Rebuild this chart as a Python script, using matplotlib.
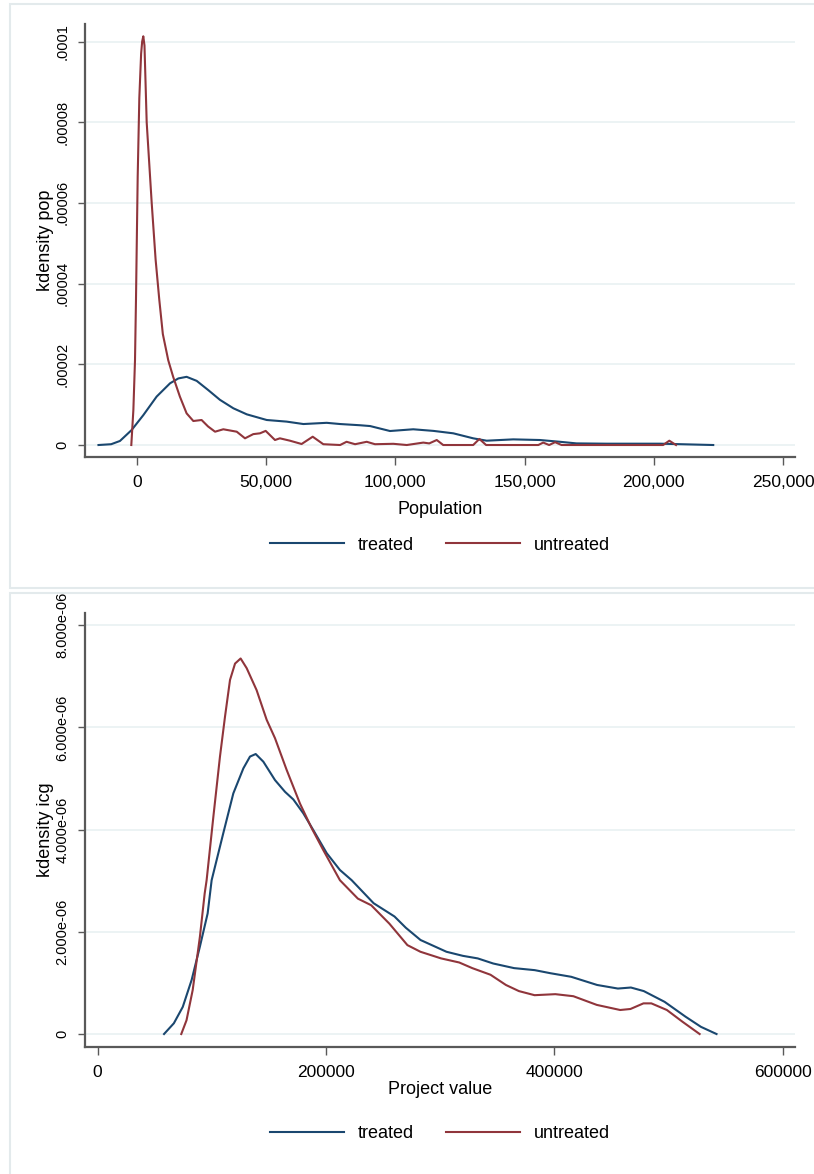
import matplotlib
matplotlib.use("Agg")
import matplotlib.pyplot as plt
from matplotlib.patches import Rectangle

plt.rcParams['font.family'] = ['Liberation Sans Narrow', 'Liberation Sans', 'DejaVu Sans']

# kdensity of population, treated vs untreated
pop_treated_x = [-14900, -10000, -6600, -2100, 2440, 7600, 12800, 16000, 19200, 23100,
                 27600, 32100, 37300, 42500, 50200, 57900, 64400, 73400, 78600, 86300,
                 90200, 97900, 106900, 114700, 122400, 130100, 135300, 145600, 155900,
                 163700, 170100, 181700, 202400, 223000]
pop_treated_y = [0, 2e-7, 1.0e-6, 3.7e-6, 7.4e-6, 1.2e-5, 1.53e-5, 1.65e-5, 1.69e-5, 1.59e-5,
                 1.36e-5, 1.12e-5, 9.1e-6, 7.6e-6, 6.2e-6, 5.8e-6, 5.2e-6, 5.5e-6, 5.2e-6, 4.9e-6,
                 4.7e-6, 3.47e-6, 3.9e-6, 3.5e-6, 2.9e-6, 1.66e-6, 1.07e-6, 1.4e-6, 1.24e-6,
                 8e-7, 4e-7, 3.3e-7, 3.3e-7, 0]

pop_untreated_x = [-2200, -1400, -770, -390, 270, 900, 1600, 2000, 2440, 2900, 3750, 5690,
                   7200, 8630, 10000, 12100, 14000, 16600, 19200, 21800, 25000, 27500, 30200,
                   33400, 38600, 41800, 45000, 47600, 49800, 53400, 55300, 59200, 63700,
                   68000, 72100, 78600, 81100, 84400, 88900, 92100, 99200, 104400, 110800,
                   113100, 116000, 118500, 130100, 132500, 135100, 155300, 157200, 159500,
                   161800, 164300, 203600, 206000, 208600]
pop_untreated_y = [0, 8.7e-6, 2.1e-5, 3.6e-5, 6.65e-5, 8.6e-5, 9.7e-5, 1.0e-4, 1.013e-4, 9.9e-5,
                   8.0e-5, 6.0e-5, 4.6e-5, 3.6e-5, 2.75e-5, 2.1e-5, 1.69e-5, 1.2e-5, 7.85e-6,
                   5.95e-6, 6.2e-6, 4.6e-6, 3.3e-6, 3.9e-6, 3.3e-6, 1.66e-6, 2.7e-6, 2.9e-6,
                   3.5e-6, 1.24e-6, 1.66e-6, 1.07e-6, 2.5e-7, 2.06e-6, 2e-7, 0, 8e-7, 2e-7,
                   8e-7, 2e-7, 3e-7, 0, 6e-7, 4e-7, 1.24e-6, 0, 0, 1.5e-6, 0, 0, 6e-7, 0,
                   7e-7, 0, 0, 1.07e-6, 0]

pop_xticks = [0, 50000, 100000, 150000, 200000, 250000]
pop_xticklabels = ["0", "50,000", "100,000", "150,000", "200,000", "250,000"]
pop_yticks = [0, 0.00002, 0.00004, 0.00006, 0.00008, 0.0001]
pop_yticklabels = ["0", ".00002", ".00004", ".00006", ".00008", ".0001"]

# kdensity of project value (icg)
icg_treated_x = [58200, 66800, 74600, 82400, 89600, 96400, 99900, 110100, 118900, 127700,
                 133500, 138500, 145200, 155400, 164200, 171500, 180200, 189000, 200700,
                 212300, 222600, 241800, 260100, 270000, 282900, 305600, 320000, 333000,
                 346600, 364800, 383000, 396700, 414900, 437600, 455800, 467200, 478500,
                 496700, 515000, 528600, 542200]
icg_treated_y = [0, 2.1e-7, 5.3e-7, 1.06e-6, 1.71e-6, 2.36e-6, 3.01e-6, 3.93e-6, 4.71e-6, 5.20e-6,
                 5.43e-6, 5.48e-6, 5.33e-6, 4.97e-6, 4.74e-6, 4.59e-6, 4.32e-6, 3.99e-6, 3.54e-6,
                 3.21e-6, 3.01e-6, 2.56e-6, 2.30e-6, 2.08e-6, 1.84e-6, 1.61e-6, 1.53e-6, 1.48e-6,
                 1.38e-6, 1.29e-6, 1.25e-6, 1.19e-6, 1.12e-6, 9.6e-7, 8.9e-7, 9.1e-7, 8.4e-7,
                 6.3e-7, 3.4e-7, 1.4e-7, 0]

icg_untreated_x = [73300, 77900, 83300, 89600, 93800, 95500, 101400, 107200, 111600, 116000,
                   120400, 125300, 130600, 139300, 148100, 155400, 165600, 177300, 187500,
                   197700, 212300, 228000, 239700, 255600, 271400, 282800, 300900, 316800,
                   328200, 344200, 357700, 369100, 382800, 401000, 416800, 437300, 457800,
                   466800, 478200, 485100, 498700, 512400, 527400]
icg_untreated_y = [0, 2.7e-7, 8.6e-7, 1.90e-6, 2.75e-6, 3.01e-6, 4.25e-6, 5.43e-6, 6.21e-6, 6.93e-6,
                   7.25e-6, 7.35e-6, 7.16e-6, 6.73e-6, 6.15e-6, 5.79e-6, 5.17e-6, 4.51e-6, 4.03e-6,
                   3.60e-6, 3.01e-6, 2.65e-6, 2.52e-6, 2.16e-6, 1.74e-6, 1.61e-6, 1.48e-6, 1.40e-6,
                   1.29e-6, 1.16e-6, 9.6e-7, 8.4e-7, 7.6e-7, 7.8e-7, 7.4e-7, 5.7e-7, 4.7e-7,
                   4.9e-7, 6.0e-7, 6.0e-7, 4.7e-7, 2.4e-7, 0]

icg_xticks = [0, 200000, 400000, 600000]
icg_xticklabels = ["0", "200000", "400000", "600000"]
icg_yticks = [0, 2e-6, 4e-6, 6e-6, 8e-6]
icg_yticklabels = ["0", "2.000e-06", "4.000e-06", "6.000e-06", "8.000e-06"]

series_labels = ["treated", "untreated"]
navy = "#1a476f"
maroon = "#90353b"
grid_col = "#eaf2f3"
axis_col = "#595959"

W, H = 814, 1174
fig = plt.figure(figsize=(W / 100, H / 100), dpi=100)
fig.patch.set_facecolor("white")

# panel frames (pixel boxes converted to figure fractions)
for top, bot in [(4, 588), (593, 1180)]:
    fig.patches.append(Rectangle((10 / W, 1 - bot / H), 1.0, (bot - top) / H,
                                 transform=fig.transFigure, facecolor="white",
                                 edgecolor="#e3eaec", linewidth=1.5, zorder=-5))


def panel(rect, tx, ty, ux, uy, xlim, ylim, xticks, xtl, yticks, ytl, xlabel, ylabel,
          legend_y, xpad):
    ax = fig.add_axes(rect)
    ax.patch.set_alpha(0)
    for y in yticks:
        ax.axhline(y, color=grid_col, lw=1.3, zorder=1)
    ax.plot(tx, ty, color=navy, lw=1.5, zorder=3, label=series_labels[0])
    ax.plot(ux, uy, color=maroon, lw=1.5, zorder=3, label=series_labels[1])
    ax.set_xlim(*xlim)
    ax.set_ylim(*ylim)
    ax.spines["top"].set_visible(False)
    ax.spines["right"].set_visible(False)
    for s in ("left", "bottom"):
        ax.spines[s].set_color(axis_col)
        ax.spines[s].set_linewidth(1.6)
    ax.set_xticks(xticks)
    ax.set_xticklabels(xtl, fontsize=12.5)
    ax.set_yticks(yticks)
    ax.set_yticklabels(ytl, fontsize=10.5, rotation=90, va="center")
    ax.tick_params(axis="x", length=6, width=1, color=axis_col, pad=7)
    ax.tick_params(axis="y", length=5, width=1, color=axis_col, pad=6)
    ax.set_xlabel(xlabel, fontsize=13, labelpad=xpad)
    ax.set_ylabel(ylabel, fontsize=13, labelpad=1.5)
    ax.legend(loc="center", bbox_to_anchor=(440 / W, 1 - legend_y / H),
              bbox_transform=fig.transFigure, ncol=2, frameon=False, fontsize=13,
              handlelength=4.1, handletextpad=0.75, columnspacing=1.8)
    return ax


panel([85 / W, 1 - 457 / H, 710 / W, 433 / H],
      pop_treated_x, pop_treated_y, pop_untreated_x, pop_untreated_y,
      (-20120, 254640), (-2.97e-6, 1.0434e-4),
      pop_xticks, pop_xticklabels, pop_yticks, pop_yticklabels,
      "Population", "kdensity pop", 545, 8)

panel([85 / W, 1 - 1047 / H, 710 / W, 434 / H],
      icg_treated_x, icg_treated_y, icg_untreated_x, icg_untreated_y,
      (-11040, 610950), (-2.54e-7, 8.24e-6),
      icg_xticks, icg_xticklabels, icg_yticks, icg_yticklabels,
      "Project value", "kdensity icg", 1134, 1)

fig.savefig("out.png", dpi=100)
